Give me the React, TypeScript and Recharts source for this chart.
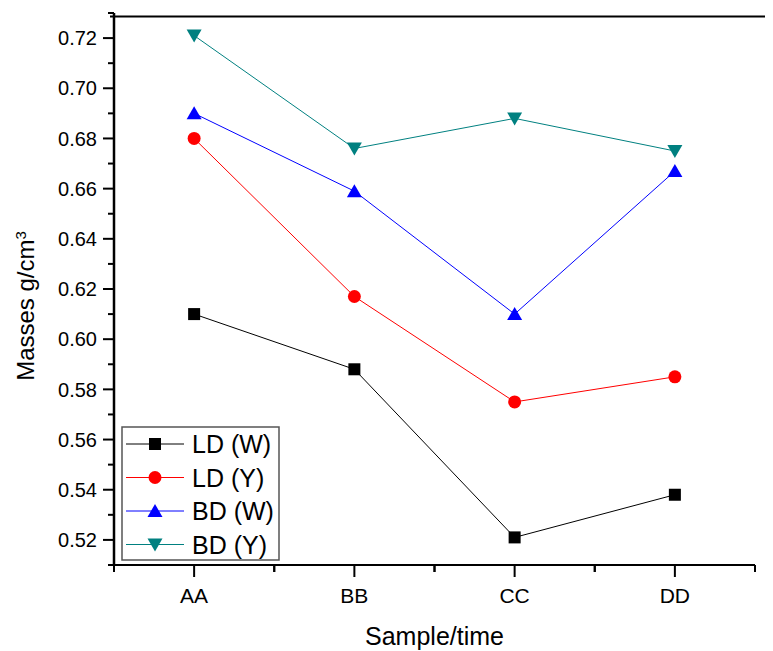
import React from 'react';
import { ComposedChart, Line, XAxis, YAxis, Customized } from 'recharts';

const categories = ['AA', 'BB', 'CC', 'DD'];
const ldW = [0.610, 0.588, 0.521, 0.538];
const ldY = [0.680, 0.617, 0.575, 0.585];
const bdW = [0.690, 0.659, 0.610, 0.667];
const bdY = [0.721, 0.676, 0.688, 0.675];
const yTicks = [0.51, 0.52, 0.53, 0.54, 0.55, 0.56, 0.57, 0.58, 0.59, 0.60, 0.61, 0.62, 0.63, 0.64, 0.65, 0.66, 0.67, 0.68, 0.69, 0.70, 0.71, 0.72, 0.73];
const seriesNames = ['LD (W)', 'LD (Y)', 'BD (W)', 'BD (Y)'];
const seriesColors = ['#000000', '#ff0000', '#0000ff', '#008080'];
const seriesShapes = ['square', 'circle', 'up', 'down'];

const data = categories.map((c, i) => ({ cat: c, ldW: ldW[i], ldY: ldY[i], bdW: bdW[i], bdY: bdY[i] }));

const W = 765;
const H = 643;
const M = { top: 5, right: 18, bottom: 16, left: 36 };
const YW = 70;
const XH = 70;
const PL = M.left + YW;
const PR = W - M.right;
const PT = M.top;
const PB = H - M.bottom - XH;
const HALF_BAND = (PR - PL) / categories.length / 2;
const FONT = '"Liberation Sans", Arial, sans-serif';

function Marker({ shape, cx, cy, color }: any) {
  if (cx == null || cy == null) return null;
  if (shape === 'square') return <rect x={cx - 6} y={cy - 6} width={12} height={12} fill={color} />;
  if (shape === 'circle') return <circle cx={cx} cy={cy} r={6.5} fill={color} />;
  if (shape === 'up') return <polygon points={`${cx - 7.5},${cy + 6} ${cx + 7.5},${cy + 6} ${cx},${cy - 7}`} fill={color} />;
  return <polygon points={`${cx - 7.5},${cy - 6} ${cx + 7.5},${cy - 6} ${cx},${cy + 7}`} fill={color} />;
}

const makeDot = (i: number) => (props: any) => (
  <Marker key={`${i}-${props.index}`} shape={seriesShapes[i]} cx={props.cx} cy={props.cy} color={seriesColors[i]} />
);

function YTick(props: any) {
  const { y, payload } = props;
  const v = payload.value;
  const k = Math.round(v * 100);
  const major = k % 2 === 0;
  return (
    <g>
      <line x1={PL - (major ? 11 : 6)} x2={PL} y1={y} y2={y} stroke="#000" strokeWidth={2} />
      {major && (
        <text x={PL - 17} y={y} dy="0.36em" textAnchor="end" fontSize={20} fontFamily={FONT} fill="#000">
          {v.toFixed(2)}
        </text>
      )}
    </g>
  );
}

function XTick(props: any) {
  const { x, payload } = props;
  return (
    <g>
      <line x1={x} x2={x} y1={PB} y2={PB + 12} stroke="#000" strokeWidth={2} />
      <line x1={x - HALF_BAND} x2={x - HALF_BAND} y1={PB} y2={PB + 7} stroke="#000" strokeWidth={2} />
      <line x1={x + HALF_BAND} x2={x + HALF_BAND} y1={PB} y2={PB + 7} stroke="#000" strokeWidth={2} />
      <text x={x} y={PB + 30} dy="0.36em" textAnchor="middle" fontSize={21} fontFamily={FONT} fill="#000">
        {payload.value}
      </text>
    </g>
  );
}

function Decor() {
  const lx = 114;
  const ly = 419;
  return (
    <g>
      <line x1={PL - 4} x2={W} y1={PT + 3.5} y2={PT + 3.5} stroke="#000" strokeWidth={2} />
      <text
        transform={`translate(${17}, ${(PT + PB) / 2 + 17}) rotate(-90)`}
        textAnchor="middle"
        dy="0.36em"
        fontSize={24}
        fontFamily={FONT}
        fill="#000"
      >
        Masses g/cm<tspan baselineShift="super" fontSize={15}>3</tspan>
      </text>
      <text x={(PL + PR) / 2} y={PB + 71} dy="0.36em" textAnchor="middle" fontSize={25} fontFamily={FONT} fill="#000">
        Sample/time
      </text>
      <g transform={`translate(${lx}, ${ly})`}>
        <rect x={0} y={0} width={157} height={133} fill="#fff" stroke="#555" strokeWidth={1.5} />
        {seriesNames.map((n, i) => {
          const cy = 17 + i * 33.5;
          return (
            <g key={n}>
              <line x1={4} x2={62} y1={cy} y2={cy} stroke={seriesColors[i]} strokeWidth={1} />
              <Marker shape={seriesShapes[i]} cx={33} cy={cy} color={seriesColors[i]} />
              <text x={70} y={cy} dy="0.36em" fontSize={25} fontFamily={FONT} fill="#000">{n}</text>
            </g>
          );
        })}
      </g>
    </g>
  );
}

export default function App() {
  return (
    <ComposedChart width={W} height={H} data={data} margin={M}>
      <XAxis
        dataKey="cat"
        type="category"
        scale="band"
        height={XH}
        tick={<XTick />}
        tickLine={false}
        tickSize={0}
        axisLine={{ stroke: '#000', strokeWidth: 2 }}
        interval={0}
      />
      <YAxis
        type="number"
        domain={[0.51, 0.73]}
        ticks={yTicks}
        width={YW}
        tick={<YTick />}
        tickLine={false}
        tickSize={0}
        axisLine={{ stroke: '#000', strokeWidth: 2.5 }}
        interval={0}
        allowDataOverflow
      />
      <Line dataKey="ldW" name={seriesNames[0]} stroke={seriesColors[0]} strokeWidth={1} dot={makeDot(0)} isAnimationActive={false} />
      <Line dataKey="ldY" name={seriesNames[1]} stroke={seriesColors[1]} strokeWidth={1} dot={makeDot(1)} isAnimationActive={false} />
      <Line dataKey="bdW" name={seriesNames[2]} stroke={seriesColors[2]} strokeWidth={1} dot={makeDot(2)} isAnimationActive={false} />
      <Line dataKey="bdY" name={seriesNames[3]} stroke={seriesColors[3]} strokeWidth={1} dot={makeDot(3)} isAnimationActive={false} />
      <Customized component={<Decor />} />
    </ComposedChart>
  );
}
